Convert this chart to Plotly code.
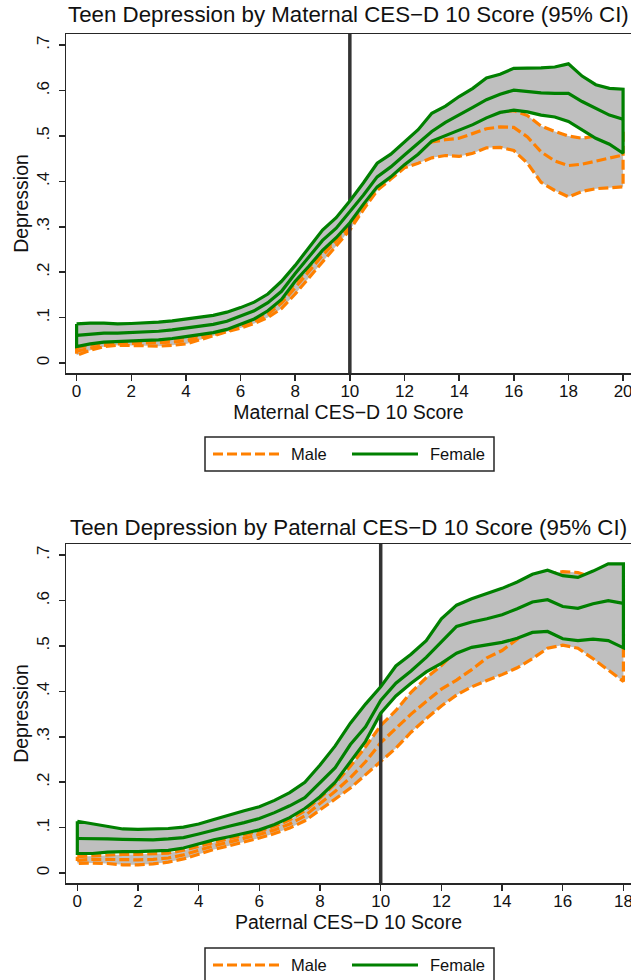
import plotly.graph_objects as go

W, H = 631, 980

# ---------------- data: maternal CES-D ----------------
mat_score = [0, 0.5, 1, 1.5, 2, 2.5, 3, 3.5, 4, 4.5, 5, 5.5, 6, 6.5, 7, 7.5, 8, 8.5, 9, 9.5,
             10, 10.5, 11, 11.5, 12, 12.5, 13, 13.5, 14, 14.5, 15, 15.5, 16, 16.5, 17, 17.5,
             18, 18.5, 19, 19.5, 20]
mat_female_hi = [.086, .088, .088, .086, .087, .088, .090, .093, .097, .100,
                 .105, .112, .122, .134, .152, .180, .215, .254, .293, .320,
                 .357, .397, .440, .460, .488, .514, .550, .566, .587, .605,
                 .628, .636, .649, .649, .650, .652, .659, .632, .613, .605, .603]
mat_female_mean = [.061, .064, .066, .066, .067, .068, .070, .073, .077, .080,
                   .085, .092, .103, .115, .133, .158, .197, .233, .270, .297,
                   .333, .370, .410, .432, .458, .483, .510, .530, .546, .563,
                   .580, .592, .601, .598, .595, .594, .594, .576, .561, .546, .537]
mat_female_lo = [.036, .042, .046, .048, .049, .050, .051, .054, .058, .062,
                 .067, .074, .086, .097, .115, .140, .180, .213, .248, .276,
                 .309, .350, .388, .410, .437, .460, .489, .500, .513, .525,
                 .540, .552, .557, .553, .546, .542, .532, .513, .495, .482, .462]
mat_male_hi = [.034, .040, .044, .046, .047, .048, .049, .052, .056, .060,
               .065, .072, .084, .095, .113, .137, .177, .210, .245, .273,
               .307, .350, .395, .420, .448, .474, .498, .515, .530, .540,
               .548, .553, .556, .545, .522, .510, .500, .495, .500, .508, .515]
mat_male_mean = [.026, .033, .039, .042, .043, .043, .044, .046, .049, .055,
                 .062, .070, .081, .092, .107, .132, .166, .202, .237, .269,
                 .301, .343, .387, .410, .437, .463, .487, .492, .495, .506,
                 .516, .520, .519, .498, .465, .445, .435, .438, .445, .452, .458]
mat_male_lo = [.017, .028, .036, .039, .039, .038, .037, .039, .042, .052,
               .060, .069, .077, .087, .100, .120, .152, .186, .222, .258,
               .293, .338, .380, .405, .430, .440, .452, .457, .455, .462,
               .474, .475, .468, .440, .398, .380, .366, .378, .384, .386, .388]

# ---------------- data: paternal CES-D ----------------
pat_score = [0, 0.5, 1, 1.5, 2, 2.5, 3, 3.5, 4, 4.5, 5, 5.5, 6, 6.5, 7, 7.5, 8, 8.5, 9, 9.5,
             10, 10.5, 11, 11.5, 12, 12.5, 13, 13.5, 14, 14.5, 15, 15.5, 16, 16.5, 17, 17.5, 18]
pat_female_hi = [.114, .108, .102, .097, .096, .097, .098, .101, .108, .118,
                 .128, .137, .146, .160, .177, .200, .238, .280, .330, .372,
                 .410, .456, .482, .512, .560, .590, .604, .615, .627, .641,
                 .658, .667, .655, .651, .665, .681, .681]
pat_female_mean = [.076, .076, .075, .074, .073, .073, .075, .078, .086, .095,
                   .103, .111, .120, .133, .148, .166, .198, .232, .283, .322,
                   .380, .418, .445, .475, .509, .543, .553, .560, .569, .582,
                   .597, .602, .587, .583, .593, .600, .594]
pat_female_lo = [.043, .043, .046, .047, .047, .048, .050, .055, .064, .073,
                 .080, .087, .095, .107, .122, .142, .168, .200, .245, .290,
                 .352, .390, .418, .443, .462, .484, .497, .502, .508, .517,
                 .530, .532, .516, .512, .515, .512, .496]
pat_male_hi = [.036, .038, .040, .041, .041, .042, .044, .050, .059, .068,
               .076, .084, .092, .103, .117, .137, .165, .197, .235, .278,
               .325, .358, .398, .430, .457, .490, .520, .550, .580, .610,
               .635, .657, .664, .662, .650, .640, .630]
pat_male_mean = [.028, .030, .030, .029, .029, .030, .033, .040, .050, .060,
                 .068, .076, .085, .095, .108, .126, .152, .180, .210, .245,
                 .287, .318, .350, .378, .405, .425, .448, .474, .490, .515,
                 .540, .565, .583, .578, .565, .550, .535]
pat_male_lo = [.021, .022, .021, .018, .018, .020, .024, .031, .042, .052,
               .060, .068, .077, .087, .099, .115, .139, .163, .187, .215,
               .245, .275, .310, .340, .368, .392, .410, .424, .437, .452,
               .472, .495, .502, .495, .472, .448, .422]

# ---------------- ticks / labels ----------------
y_tick_vals = [0, .1, .2, .3, .4, .5, .6, .7]
y_tick_text = ["0", ".1", ".2", ".3", ".4", ".5", ".6", ".7"]
mat_x_ticks = [0, 2, 4, 6, 8, 10, 12, 14, 16, 18, 20]
pat_x_ticks = [0, 2, 4, 6, 8, 10, 12, 14, 16, 18]
cutoff = 10
titles = ["Teen Depression by Maternal CES\u2212D 10 Score (95% CI)",
          "Teen Depression by Paternal CES\u2212D 10 Score (95% CI)"]
x_titles = ["Maternal CES\u2212D 10 Score", "Paternal CES\u2212D 10 Score"]
legend_labels = ["Male", "Female"]

# ---------------- styles ----------------
FONT = "Liberation Sans, Arial, Helvetica, sans-serif"
ORANGE = "#FF8000"
GREEN = "#008000"
BAND = "#BFBFBF"
AX = "#262626"
VLINE = "#333333"
DASH = "10px,4px"
LW = 3.2

mat_xrange = [-0.388, 20.29]
pat_xrange = [-0.373, 18.25]
y_range = [-0.022, 0.7247]

fig = go.Figure()


def band(x, lo, hi, color, dash, xa, ya):
    xs = list(x) + list(x)[::-1] + [x[0]]
    ys = list(hi) + list(lo)[::-1] + [hi[0]]
    return go.Scatter(x=xs, y=ys, mode="lines", fill="toself", fillcolor=BAND,
                      line=dict(color=color, width=LW, dash=dash),
                      xaxis=xa, yaxis=ya, showlegend=False, hoverinfo="skip")


def mean_line(x, y, color, dash, xa, ya):
    return go.Scatter(x=x, y=y, mode="lines", line=dict(color=color, width=LW, dash=dash),
                      xaxis=xa, yaxis=ya, showlegend=False, hoverinfo="skip")


panels = [
    (mat_score, mat_male_lo, mat_male_mean, mat_male_hi,
     mat_female_lo, mat_female_mean, mat_female_hi, "x", "y"),
    (pat_score, pat_male_lo, pat_male_mean, pat_male_hi,
     pat_female_lo, pat_female_mean, pat_female_hi, "x2", "y2"),
]
for (sx, mlo, mmean, mhi, flo, fmean, fhi, xa, ya) in panels:
    fig.add_trace(band(sx, mlo, mhi, ORANGE, DASH, xa, ya))
    fig.add_trace(mean_line(sx, mmean, ORANGE, DASH, xa, ya))
    fig.add_trace(go.Scatter(x=[cutoff, cutoff], y=y_range, mode="lines",
                             line=dict(color=VLINE, width=3.5), xaxis=xa, yaxis=ya,
                             showlegend=False, hoverinfo="skip"))
    fig.add_trace(band(sx, flo, fhi, GREEN, "solid", xa, ya))
    fig.add_trace(mean_line(sx, fmean, GREEN, "solid", xa, ya))


def px_x(p):
    return p / W


def px_y(p):
    return 1 - p / H


x_dom = [66 / W, 1.0]
top_dom = [px_y(373), px_y(34)]
bot_dom = [px_y(883), px_y(544)]

axis_common = dict(showline=True, linecolor=AX, linewidth=1.5, ticks="outside", ticklen=6,
                   tickwidth=1.5, tickcolor=AX, showgrid=False, zeroline=False,
                   automargin=False, ticklabeloverflow="allow",
                   tickfont=dict(family=FONT, size=17, color="#111111"))
y_extra = dict(tickvals=y_tick_vals, ticktext=y_tick_text, tickangle=-90,
               ticklabelstandoff=3, range=y_range)

fig.update_layout(
    width=W, height=H, autosize=False,
    margin=dict(l=0, r=0, t=0, b=0, pad=0),
    paper_bgcolor="white", plot_bgcolor="white",
    font=dict(family=FONT, color="#111111"),
    showlegend=False,
    xaxis=dict(domain=x_dom, range=mat_xrange, anchor="y", tickvals=mat_x_ticks,
               mirror=True, ticklabelstandoff=-4,
               title=dict(text=x_titles[0], font=dict(size=19.5), standoff=2),
               **axis_common),
    yaxis=dict(domain=top_dom, anchor="x",
               title=dict(text="Depression", font=dict(size=19.5), standoff=0),
               **y_extra, **axis_common),
    xaxis2=dict(domain=x_dom, range=pat_xrange, anchor="y2", tickvals=pat_x_ticks,
                mirror=True, ticklabelstandoff=-4,
                title=dict(text=x_titles[1], font=dict(size=19.5), standoff=2),
                **axis_common),
    yaxis2=dict(domain=bot_dom, anchor="x2",
                title=dict(text="Depression", font=dict(size=19.5), standoff=0),
                **y_extra, **axis_common),
)

# panel titles
for t, ypix in zip(titles, [15, 527]):
    fig.add_annotation(text=t, x=px_x(348), y=px_y(ypix), xref="paper", yref="paper",
                       xanchor="center", yanchor="middle", showarrow=False,
                       font=dict(family=FONT, size=22.3, color="#111111"))

# legends (drawn as boxes with line samples and labels)
for (top, bottom, mid) in [(437, 471, 454), (948, 984, 965)]:
    fig.add_shape(type="rect", xref="paper", yref="paper",
                  x0=px_x(205), x1=px_x(494), y0=px_y(bottom), y1=px_y(top),
                  line=dict(color=AX, width=1.5), fillcolor="white", layer="above")
    fig.add_shape(type="line", xref="paper", yref="paper",
                  x0=px_x(213), x1=px_x(279), y0=px_y(mid), y1=px_y(mid),
                  line=dict(color=ORANGE, width=LW, dash=DASH), layer="above")
    fig.add_shape(type="line", xref="paper", yref="paper",
                  x0=px_x(352), x1=px_x(418), y0=px_y(mid), y1=px_y(mid),
                  line=dict(color=GREEN, width=LW), layer="above")
    for lab, xp in zip(legend_labels, [289, 428]):
        fig.add_annotation(text=lab, x=px_x(xp), y=px_y(mid), xref="paper", yref="paper",
                           xanchor="left", yanchor="middle", showarrow=False,
                           font=dict(family=FONT, size=16.5, color="#111111"))

fig.write_html(
    "out.html",
    config={"displayModeBar": False, "staticPlot": True},
    post_script="document.body.style.margin='0';document.body.style.overflow='hidden';"
                "window.dispatchEvent(new Event('resize'));",
)
